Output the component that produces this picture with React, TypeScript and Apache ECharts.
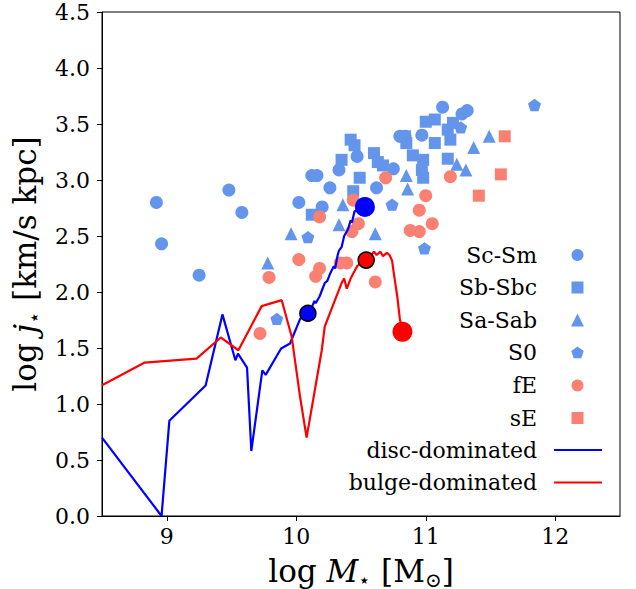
import React, { useEffect, useRef } from "react";
import * as echarts from "echarts";

// ---- data (log M*, log j*) ----
const scSm = [[8.92,2.80],[8.96,2.43],[9.25,2.15],[9.48,2.91],[9.58,2.71],[10.02,2.80],[10.12,3.04],[10.16,3.04],[10.20,2.76],[10.26,2.93],[10.33,3.09],[10.47,3.21],[10.62,2.93],[10.75,3.10],[10.80,3.39],[10.84,3.39],[10.97,3.40],[11.13,3.65],[11.28,3.59],[11.32,3.62]];
const sbSbc = [[10.12,2.69],[10.35,3.18],[10.42,3.36],[10.45,3.31],[10.44,2.90],[10.49,3.02],[10.60,3.24],[10.63,3.16],[10.67,3.13],[10.84,3.39],[10.85,3.33],[10.90,3.22],[10.98,3.18],[10.97,3.09],[10.98,3.02],[11.00,3.52],[11.07,3.54],[11.07,3.33],[11.17,3.45],[11.19,3.36],[11.17,3.19],[11.21,3.51]];
const saSab = [[9.78,2.26],[9.96,2.52],[10.33,2.60],[10.36,2.78],[10.61,2.52],[10.85,3.04],[10.86,2.92],[11.24,3.14],[11.31,3.09],[11.37,3.29],[11.49,3.39]];
const s0 = [[9.85,1.76],[10.09,2.49],[10.74,2.78],[10.99,2.39],[11.27,3.47],[11.84,3.67]];
const fE = [[9.72,1.63],[9.79,2.13],[10.02,2.29],[10.15,2.14],[10.18,2.21],[10.18,2.67],[10.34,2.26],[10.39,2.26],[10.43,2.54],[10.48,2.61],[10.44,2.82],[10.61,2.09],[10.69,3.02],[10.88,2.55],[10.95,2.54],[10.95,2.73],[11.00,2.86],[11.05,2.61],[11.19,3.03]];
const sE = [[11.41,2.86],[11.58,3.05],[11.61,3.39]];

const discTrack = [[8.5,0.70],[8.96,0.0],[9.02,0.85],[9.30,1.165],[9.43,1.80],[9.53,1.39],[9.55,1.45],[9.62,1.325],[9.653,0.58],[9.738,1.30],[9.764,1.26],[9.883,1.495],[9.952,1.54],[10.03,1.76],[10.09,1.81],[10.12,1.86],[10.14,1.92],[10.15,1.90],[10.18,1.96],[10.20,2.02],[10.22,2.08],[10.24,2.10],[10.26,2.16],[10.29,2.23],[10.30,2.21],[10.32,2.33],[10.33,2.37],[10.35,2.40],[10.37,2.50],[10.38,2.52],[10.40,2.56],[10.42,2.64],[10.43,2.62],[10.45,2.72],[10.48,2.73],[10.53,2.76]];
const bulgeTrack = [[8.5,1.167],[8.83,1.37],[9.23,1.405],[9.417,1.594],[9.553,1.48],[9.733,1.874],[9.888,1.927],[9.965,1.60],[10.03,1.06],[10.08,0.70],[10.14,1.10],[10.197,1.48],[10.22,1.69],[10.29,1.90],[10.35,2.08],[10.37,2.12],[10.39,2.03],[10.42,2.12],[10.47,2.23],[10.54,2.29],[10.56,2.34],[10.58,2.33],[10.60,2.36],[10.62,2.33],[10.65,2.36],[10.67,2.32],[10.70,2.35],[10.72,2.33],[10.74,2.28],[10.75,2.195],[10.78,1.96],[10.80,1.76],[10.82,1.645]];
const discMid = [[10.09,1.81]];
const discEnd = [[10.53,2.76]];
const bulgeMid = [[10.54,2.285]];
const bulgeEnd = [[10.82,1.645]];

const xTicks = [9, 10, 11, 12];
const legendLabels = ["Sc-Sm", "Sb-Sbc", "Sa-Sab", "S0", "fE", "sE", "disc-dominated", "bulge-dominated"];

const BLUE = "#6495ED";
const SALMON = "#FA8072";
const FONT = "DejaVu Serif";
const PENT = "path://M50,0 L97.55,34.55 L79.39,90.45 L20.61,90.45 L2.45,34.55 Z";

function buildLegend() {
  const rows = [255, 287.5, 320, 352.5, 385.5, 418, 450, 482.5];
  const tx = 537, mx = 577.5;
  const els: any[] = [];
  legendLabels.forEach((t, i) => {
    els.push({
      type: "text",
      style: { text: t, x: tx, y: rows[i], align: "right", textAlign: "right", verticalAlign: "middle", textVerticalAlign: "middle", fontFamily: FONT, fontSize: 22, fill: "#000" },
    });
  });
  const r = 6;
  els.push({ type: "circle", shape: { cx: mx, cy: rows[0], r }, style: { fill: BLUE } });
  els.push({ type: "rect", shape: { x: mx - 6, y: rows[1] - 6, width: 12, height: 12 }, style: { fill: BLUE } });
  els.push({ type: "polygon", shape: { points: [[mx, rows[2] - 6.5], [mx - 6.5, rows[2] + 6.5], [mx + 6.5, rows[2] + 6.5]] }, style: { fill: BLUE } });
  const pc = rows[3];
  const pts: number[][] = [];
  for (let k = 0; k < 5; k++) {
    const a = -Math.PI / 2 + (k * 2 * Math.PI) / 5;
    pts.push([mx + 6.5 * Math.cos(a), pc + 0.5 + 6.5 * Math.sin(a)]);
  }
  els.push({ type: "polygon", shape: { points: pts }, style: { fill: BLUE } });
  els.push({ type: "circle", shape: { cx: mx, cy: rows[4], r }, style: { fill: SALMON } });
  els.push({ type: "rect", shape: { x: mx - 6, y: rows[5] - 6, width: 12, height: 12 }, style: { fill: SALMON } });
  els.push({ type: "line", shape: { x1: 554, y1: rows[6], x2: 602, y2: rows[6] }, style: { stroke: "#0000FF", lineWidth: 2.2 } });
  els.push({ type: "line", shape: { x1: 554, y1: rows[7], x2: 602, y2: rows[7] }, style: { stroke: "#FF0000", lineWidth: 2.2 } });
  return els;
}

function richFor(size: number, sub: number, drop: number) {
  return {
    r: { fontFamily: FONT, fontSize: size, lineHeight: size + 3, color: "#000", verticalAlign: "middle" },
    i: { fontFamily: FONT, fontSize: size, lineHeight: size + 3, fontStyle: "italic", color: "#000", verticalAlign: "middle" },
    s: { fontFamily: FONT, fontSize: sub, lineHeight: sub + 2, color: "#000", verticalAlign: "middle", padding: [drop, 0, 0, 0] },
  };
}

export default function App() {
  const ref = useRef<HTMLDivElement>(null);
  useEffect(() => {
    if (!ref.current) return;
    const chart = echarts.init(ref.current, null, { renderer: "svg" });
    const scatter = (name: string, data: number[][], symbol: string, size: number, color: string) => ({
      name, type: "scatter", data, symbol, symbolSize: size, symbolKeepAspect: true,
      itemStyle: { color, opacity: 1 }, z: 2, silent: true,
    });
    const marker = (data: number[][], size: number, color: string, edge: boolean) => ({
      type: "scatter", data, symbol: "circle", symbolSize: size,
      itemStyle: { color, opacity: 1, borderColor: edge ? "#000" : color, borderWidth: edge ? 1.5 : 0 },
      z: 4, silent: true,
    });
    chart.setOption({
      animation: false,
      grid: { left: 102, right: 16, top: 12, bottom: 73, containLabel: false, outerBoundsMode: "none", show: true, borderColor: "#000", borderWidth: 1, backgroundColor: "transparent" },
      xAxis: {
        type: "value", min: 8.5, max: 12.5,
        name: "{r|log }{i|M}{s|⋆}{r| [M}{s|⊙}{r|]}",
        nameLocation: "middle", nameGap: 24,
        nameTextStyle: { rich: richFor(31, 20, 18) },
        axisLine: { show: true, lineStyle: { color: "#000", width: 1 } },
        axisTick: { show: true, inside: false, length: 5, customValues: xTicks, lineStyle: { color: "#000" } },
        axisLabel: { customValues: xTicks, fontFamily: FONT, fontSize: 22, color: "#000", margin: 9 },
        splitLine: { show: false },
      },
      yAxis: {
        type: "value", min: 0, max: 4.5, interval: 0.5,
        name: "{r|log }{i|j}{s|⋆}{r| [km/s kpc]}",
        nameLocation: "middle", nameGap: 57, nameRotate: 90,
        nameTextStyle: { rich: richFor(31, 20, 18) },
        axisLine: { show: true, lineStyle: { color: "#000", width: 1 } },
        axisTick: { show: true, inside: false, length: 5, lineStyle: { color: "#000" } },
        axisLabel: { fontFamily: FONT, fontSize: 22, color: "#000", margin: 12, formatter: (v: number) => v.toFixed(1) },
        splitLine: { show: false },
      },
      graphic: buildLegend(),
      series: [
        scatter("Sc-Sm", scSm, "circle", 13, BLUE),
        scatter("Sb-Sbc", sbSbc, "rect", 12, BLUE),
        scatter("Sa-Sab", saSab, "triangle", 13, BLUE),
        scatter("S0", s0, PENT, 13, BLUE),
        scatter("fE", fE, "circle", 13, SALMON),
        scatter("sE", sE, "rect", 12, SALMON),
        { name: "disc-dominated", type: "line", data: discTrack, showSymbol: false, symbol: "none", lineStyle: { color: "#0000FF", width: 2.2 }, z: 3, silent: true },
        { name: "bulge-dominated", type: "line", data: bulgeTrack, showSymbol: false, symbol: "none", lineStyle: { color: "#FF0000", width: 2.2 }, z: 3, silent: true },
        marker(discMid, 16, "#0000FF", true),
        marker(discEnd, 20, "#0000FF", false),
        marker(bulgeMid, 16, "#FF0000", true),
        marker(bulgeEnd, 20, "#FF0000", false),
      ],
    });
    return () => chart.dispose();
  }, []);
  return <div ref={ref} style={{ position: "absolute", left: 0, top: 0, width: 636, height: 589 }} />;
}
